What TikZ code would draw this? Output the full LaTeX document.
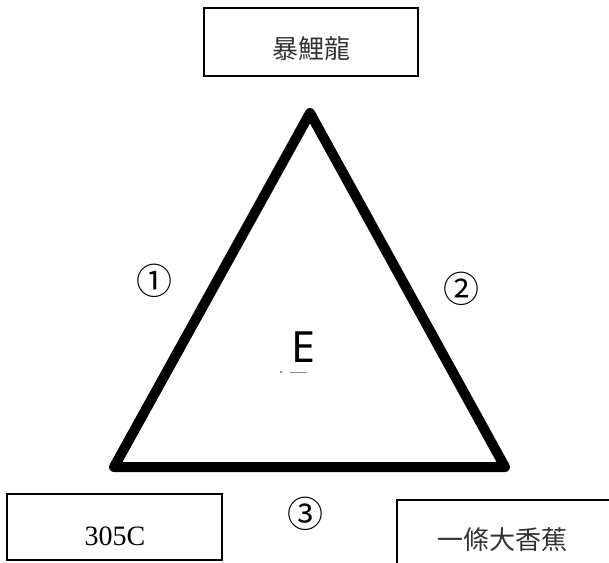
\documentclass[tikz,border=0pt]{standalone}
\usepackage{fontspec}
\setmainfont{Liberation Serif}
\newfontfamily\cjkfont{Noto Sans CJK TC}
\newfontfamily\efont{Noto Sans}
\begin{document}
\begin{tikzpicture}[x=1pt,y=-1pt,
  box/.style={draw=black,line width=1.5pt,inner sep=0pt},
  cjk/.style={font=\cjkfont\fontsize{26}{30}\selectfont,text=black!80},
  circnum/.style={font=\cjkfont\fontsize{36}{40}\selectfont},
  tri/.style={line width=10pt,line join=round,line cap=round}]
\useasboundingbox (0,0) rectangle (609,562);
% top box
\node[box,minimum width=214pt,minimum height=68pt] (top) at (311,42) {};
\node[cjk] (toptext) at (311,49) {暴鯉龍};
% left box
\node[box,minimum width=215pt,minimum height=66pt] (left) at (114.5,527) {};
\node[font=\fontsize{28}{32}\selectfont] (lefttext) at (115,536) {305C};
% right box (cut off by the frame)
\coordinate (rb1) at (397,570);
\coordinate (rb2) at (397,500);
\coordinate (rb3) at (620,500);
\draw[line width=1.5pt] (rb1) -- (rb2) -- (rb3);
\node[cjk] (righttext) at (502,540) {一條大香蕉};
% triangle
\coordinate (A) at (310,113);
\coordinate (B) at (114,467);
\coordinate (C) at (505,467);
\draw[tri] (A) -- (B) -- (C) -- cycle;
% labels
\node[circnum] (n1) at (154,281) {①};
\node[circnum] (n2) at (461,289) {②};
\node[circnum] (n3) at (305,514) {③};
\node[font=\efont\fontsize{43}{48}\selectfont] (E) at (303,347) {E};
\coordinate (m1) at (290,372);
\coordinate (m2) at (307,372);
\draw[black!45,line width=1pt] (m1) -- (m2);
\fill[black!60] (281,372) circle (1.2pt);
\end{tikzpicture}
\end{document}
